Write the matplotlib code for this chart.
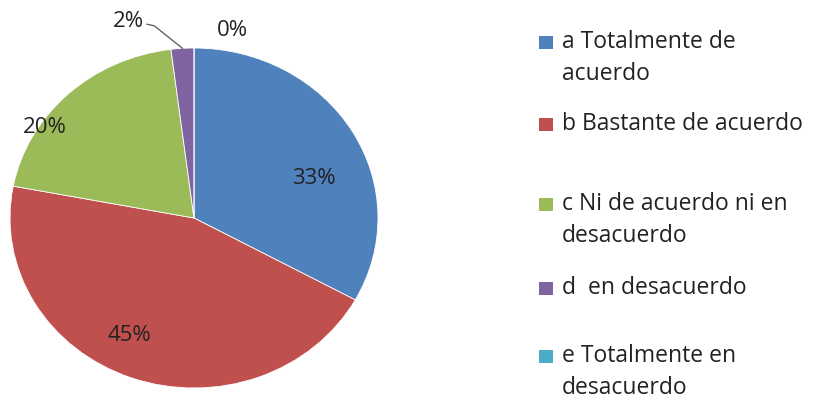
import numpy as np
import matplotlib.pyplot as plt
from matplotlib.patches import Rectangle

plt.rcParams['font.family'] = ['Open Sans', 'DejaVu Sans']

categories = ["a Totalmente de\nacuerdo", "b Bastante de acuerdo",
              "c Ni de acuerdo ni en\ndesacuerdo", "d  en desacuerdo",
              "e Totalmente en\ndesacuerdo"]
values = [33, 45, 20, 2, 0]
pct_labels = ["33%", "45%", "20%", "2%", "0%"]
colors = ["#4F81BD", "#C0504D", "#9BBB59", "#8064A2", "#4BACC6"]

W, H = 828, 404
fig = plt.figure(figsize=(W / 100, H / 100), dpi=100)

# pie axes: centre (194, 218) px, radius 184 px wide, 170 px tall (stretched)
ax = fig.add_axes([10 / W, 1 - 388 / H, 368 / W, 340 / H])
wedges, _ = ax.pie(values, colors=colors, startangle=90, counterclock=False,
                   radius=1, wedgeprops=dict(edgecolor="white", linewidth=0.6))
ax.set_aspect("auto")
ax.set_xlim(-1, 1)
ax.set_ylim(-1, 1)

# label positions in axis data units
label_pos = [(0.65, 0.235), (-0.35, -0.69), (-0.81, 0.53), (-0.355, 1.155), (0.21, 1.10)]
for txt, (x, y) in zip(pct_labels, label_pos):
    ax.text(x, y, txt, ha="center", va="center", fontsize=16, color="#222222",
            clip_on=False)

# leader line for the 2% label, ends on the wedge's outer edge
mid = np.deg2rad((wedges[3].theta1 + wedges[3].theta2) / 2)
ax.plot([-0.255, -0.215, np.cos(mid)], [1.14, 1.13, np.sin(mid)],
        color="#555555", lw=0.9, clip_on=False)

# legend drawn by hand to follow the irregular spacing
legend_y = [42, 124, 204, 288, 356]
for lab, col, y in zip(categories, colors, legend_y):
    fig.patches.append(Rectangle((539 / W, 1 - (y + 7) / H), 14 / W, 13 / H,
                                 transform=fig.transFigure, facecolor=col,
                                 edgecolor="none"))
    for i, line in enumerate(lab.split("\n")):
        fig.text(562 / W, 1 - (y + 6 + 32 * i) / H, line, ha="left",
                 va="baseline", fontsize=16.5, color="#222222",
                 transform=fig.transFigure)

fig.savefig("out.png", dpi=100)
